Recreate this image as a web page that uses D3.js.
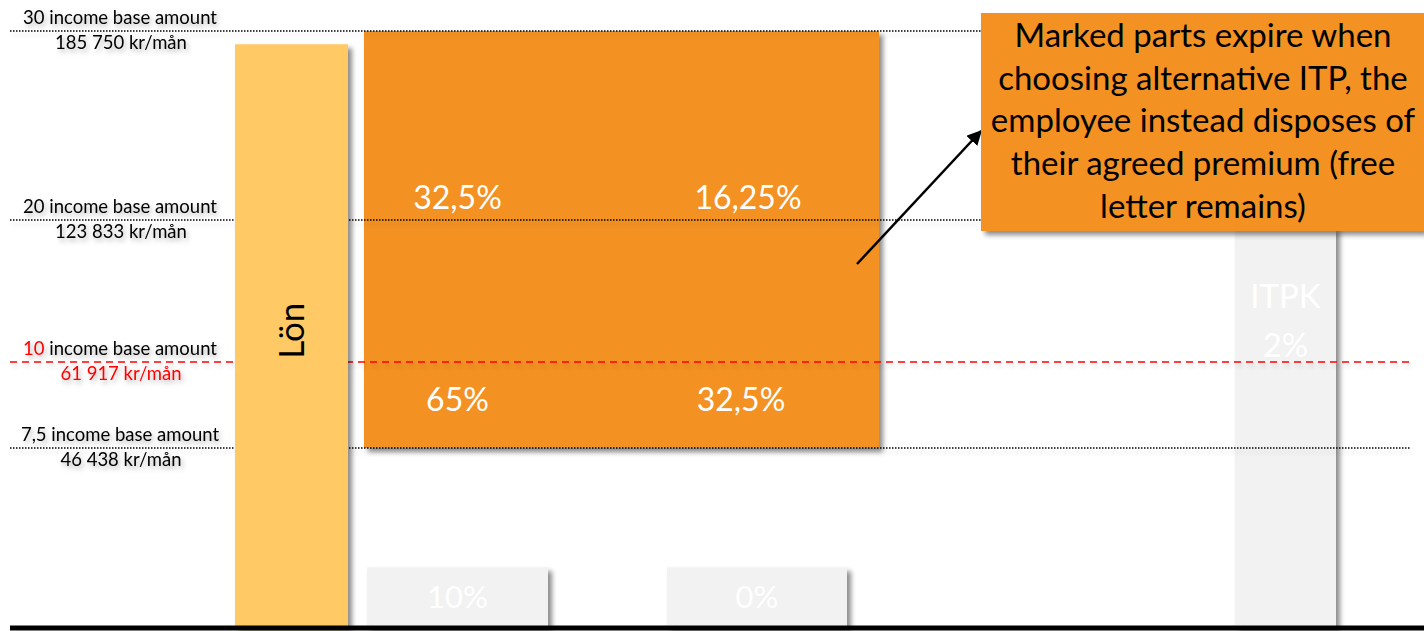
<!DOCTYPE html>
<html>
<head>
<meta charset="utf-8">
<script src="https://cdn.jsdelivr.net/npm/d3@7"></script>
<style>
    body { margin: 0; background: #ffffff; }
    text { font-family: Lato, "Open Sans", sans-serif; }
</style>
</head>
<body>
<svg id="itp-chart"></svg>
<script>
const width = 1424, height = 631

// income base amount levels and their monthly amounts
const levels = [30, 20, 10, 7.5]
const levelAmounts = ["185 750 kr/mån", "123 833 kr/mån", "61 917 kr/mån", "46 438 kr/mån"]
const redLevel = 10

// columns
const columns = ["Lön", "Alt1", "Alt2", "ITPK"]
const salaryTop = 29.3
const lowRates = ["10%", "0%"]
const lowTops = [2.5, 2.5]
const upperRates = ["32,5%", "16,25%"]
const lowerRates = ["65%", "32,5%"]
const upperRateAt = 21.15
const lowerRateAt = 8.9
const itpkTop = 19.5
const itpkLabel = ["ITPK", "2%"]
const itpkLabelAt = [14.6, 11.1]

const calloutLines = [
    "Marked parts expire when",
    "choosing alternative ITP, the",
    "employee instead disposes of",
    "their agreed premium (free",
    "letter remains)",
]

const orange = "#F39121"

const svg = d3.select("svg#itp-chart")
    .attr("viewBox", [0, 0, width, height])
    .attr("width", width)
    .attr("height", height)
    .style("background", "#ffffff")

// piecewise scale, the slide is not drawn to scale
const yScale = d3.scaleLinear()
    .domain([0, 7.5, 10, 20, 30])
    .range([627, 448, 362, 220, 31])

const xLeft = d3.scaleOrdinal()
    .domain(columns)
    .range([235, 367, 667, 1235])

const xWidth = d3.scaleOrdinal()
    .domain(columns)
    .range([113, 181, 180, 101])

const xMid = c => xLeft(c) + xWidth(c) / 2

// small nudges so the rate labels sit like on the slide
const upperDx = [0, -9]
const lowerDx = [0, -16]

const defs = svg.append("defs")
const shadow = defs.append("filter").attr("id", "shadow")
    .attr("x", "-10%").attr("y", "-10%").attr("width", "130%").attr("height", "130%")
shadow.append("feDropShadow")
    .attr("dx", 4).attr("dy", 4).attr("stdDeviation", 2.5)
    .attr("flood-color", "#000").attr("flood-opacity", 0.45)

const textShadow = defs.append("filter").attr("id", "text-shadow")
    .attr("x", "-10%").attr("y", "-40%").attr("width", "130%").attr("height", "200%")
textShadow.append("feDropShadow")
    .attr("dx", 2).attr("dy", 3).attr("stdDeviation", 2.5)
    .attr("flood-color", "#000").attr("flood-opacity", 0.3)

// lines have a zero-height box, so the filter region is in user space
const lineShadow = defs.append("filter").attr("id", "line-shadow")
    .attr("filterUnits", "userSpaceOnUse")
    .attr("x", 0).attr("y", 0).attr("width", width).attr("height", height)
lineShadow.append("feDropShadow")
    .attr("dx", 2).attr("dy", 4).attr("stdDeviation", 2)
    .attr("flood-color", "#000").attr("flood-opacity", 0.15)

defs.append("marker").attr("id", "arrow")
    .attr("viewBox", "0 0 10 10")
    .attr("refX", 9).attr("refY", 5)
    .attr("markerWidth", 6).attr("markerHeight", 6)
    .attr("orient", "auto")
    .append("path")
    .attr("d", "M0,0 L10,5 L0,10 z")
    .attr("fill", "#000")

// gray base bars
const lowCols = columns.slice(1, 3)
svg.selectAll("rect.low")
    .data(lowCols)
    .join("rect").attr("class", "low")
    .attr("x", d => xLeft(d))
    .attr("width", d => xWidth(d))
    .attr("y", (d, i) => yScale(lowTops[i]))
    .attr("height", (d, i) => yScale(0) - yScale(lowTops[i]))
    .attr("fill", "#F2F2F2")
    .attr("filter", "url(#shadow)")

svg.selectAll("text.low")
    .data(lowCols)
    .join("text").attr("class", "low")
    .attr("x", d => xMid(d))
    .attr("y", (d, i) => yScale(lowTops[i] / 2) + 11)
    .attr("text-anchor", "middle")
    .attr("font-size", 31)
    .attr("fill", "#ffffff")
    .text((d, i) => lowRates[i])

// the marked block
svg.append("rect")
    .attr("x", xLeft("Alt1") - 3)
    .attr("width", xLeft("Alt2") + xWidth("Alt2") + 32 - xLeft("Alt1") + 3)
    .attr("y", yScale(30))
    .attr("height", yScale(7.5) - yScale(30))
    .attr("fill", orange)
    .attr("filter", "url(#shadow)")

svg.selectAll("text.upper")
    .data(lowCols)
    .join("text").attr("class", "upper")
    .attr("x", (d, i) => xMid(d) + upperDx[i])
    .attr("y", yScale(upperRateAt) + 11)
    .attr("text-anchor", "middle")
    .attr("font-size", 32)
    .attr("fill", "#ffffff")
    .text((d, i) => upperRates[i])

svg.selectAll("text.lower")
    .data(lowCols)
    .join("text").attr("class", "lower")
    .attr("x", (d, i) => xMid(d) + lowerDx[i])
    .attr("y", yScale(lowerRateAt) + 11)
    .attr("text-anchor", "middle")
    .attr("font-size", 32)
    .attr("fill", "#ffffff")
    .text((d, i) => lowerRates[i])

// ITPK
svg.append("rect")
    .attr("x", xLeft("ITPK"))
    .attr("width", xWidth("ITPK"))
    .attr("y", yScale(itpkTop))
    .attr("height", yScale(0) - yScale(itpkTop))
    .attr("fill", "#F2F2F2")
    .attr("filter", "url(#shadow)")

svg.selectAll("text.itpk")
    .data(itpkLabel)
    .join("text").attr("class", "itpk")
    .attr("x", xMid("ITPK"))
    .attr("y", (d, i) => yScale(itpkLabelAt[i]) + 11)
    .attr("text-anchor", "middle")
    .attr("font-size", 33)
    .attr("fill", "#ffffff")
    .text(d => d)

// level lines
svg.selectAll("line.level")
    .data(levels)
    .join("line").attr("class", "level")
    .attr("x1", 10)
    .attr("x2", d => d === 30 || d === 20 ? 985 : 1410)
    .attr("y1", d => yScale(d))
    .attr("y2", d => yScale(d))
    .attr("stroke", d => d === redLevel ? "#FF0000" : "#000")
    .attr("stroke-width", 1.5)
    .attr("stroke-dasharray", d => d === redLevel ? "7,5" : "1.5,1.5")
    .attr("filter", "url(#line-shadow)")

// level labels
const labels = svg.selectAll("g.level-label")
    .data(levels)
    .join("g").attr("class", "level-label")
    .attr("filter", "url(#text-shadow)")

const topLabel = labels.append("text")
    .attr("x", 120)
    .attr("y", d => yScale(d) - 7)
    .attr("text-anchor", "middle")
    .attr("font-size", 18.5)
    .attr("fill", "#000")
topLabel.append("tspan")
    .attr("fill", d => d === redLevel ? "#FF0000" : "#000")
    .text(d => String(d).replace(".", ","))
topLabel.append("tspan")
    .text(" income base amount")

labels.append("text")
    .attr("x", 121)
    .attr("y", d => yScale(d) + 18)
    .attr("text-anchor", "middle")
    .attr("font-size", 18.5)
    .attr("fill", d => d === redLevel ? "#FF0000" : "#000")
    .text((d, i) => levelAmounts[i])

// salary bar
svg.append("rect")
    .attr("x", xLeft("Lön"))
    .attr("width", xWidth("Lön"))
    .attr("y", yScale(salaryTop))
    .attr("height", yScale(0) - yScale(salaryTop))
    .attr("fill", "#FFC966")
    .attr("filter", "url(#shadow)")

svg.append("text")
    .attr("transform", `translate(${xMid("Lön") + 12}, ${yScale(12.2)}) rotate(-90)`)
    .attr("text-anchor", "middle")
    .attr("font-size", 35)
    .attr("fill", "#000")
    .text("Lön")

// baseline
svg.append("line")
    .attr("x1", 10).attr("x2", width)
    .attr("y1", yScale(0) + 1).attr("y2", yScale(0) + 1)
    .attr("stroke", "#000")
    .attr("stroke-width", 5)

// callout
svg.append("line")
    .attr("x1", 857).attr("y1", 264)
    .attr("x2", 981).attr("y2", 131)
    .attr("stroke", "#000")
    .attr("stroke-width", 2.5)
    .attr("marker-end", "url(#arrow)")

svg.append("rect")
    .attr("x", 981).attr("y", 13)
    .attr("width", 443).attr("height", 218)
    .attr("fill", orange)
    .attr("filter", "url(#shadow)")

svg.selectAll("text.callout")
    .data(calloutLines)
    .join("text").attr("class", "callout")
    .attr("x", 1203)
    .attr("y", (d, i) => 47 + i * 42.7)
    .attr("text-anchor", "middle")
    .attr("font-size", 33)
    .attr("fill", "#000")
    .text(d => d)
</script>
</body>
</html>
